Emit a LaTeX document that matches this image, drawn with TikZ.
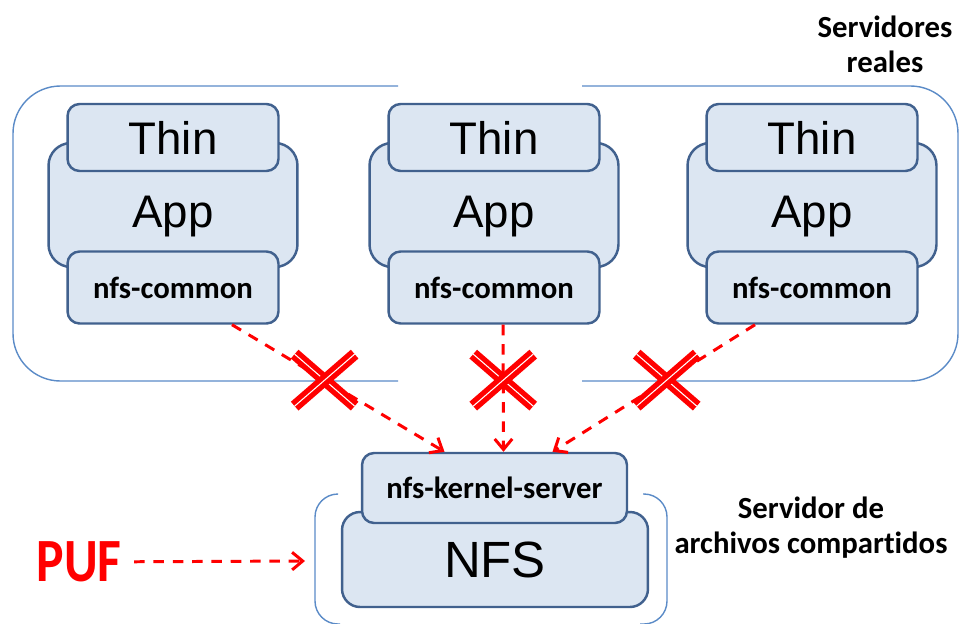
\documentclass[tikz,border=0pt]{standalone}
\usepackage{fontspec}
\setmainfont{Liberation Sans}
\newfontfamily\calibri[Ligatures=NoCommon]{Carlito}
\usetikzlibrary{arrows.meta,calc}

\definecolor{boxfill}{HTML}{DCE6F2}
\definecolor{boxline}{HTML}{41618E}
\definecolor{groupline}{HTML}{5B8BC7}

\begin{document}
\begin{tikzpicture}[x=0.02cm, y=-0.02cm,
    box/.style={rectangle, draw=boxline, line width=1.4pt, fill=boxfill, inner sep=0pt, text centered},
    thinbox/.style={box, minimum width=4.22cm, minimum height=1.34cm, rounded corners=0.24cm, font=\fontsize{26}{30}\selectfont},
    appbox/.style={box, minimum width=4.98cm, minimum height=2.48cm, rounded corners=0.45cm, font=\fontsize{26}{30}\selectfont, text height=31.5pt, text depth=5.5pt},
    libbox/.style={box, minimum width=4.22cm, minimum height=1.44cm, rounded corners=0.24cm, font=\calibri\bfseries\fontsize{17.5}{21}\selectfont},
    hostframe/.style={draw=groupline, line width=0.8pt, rounded corners=0.95cm},
    arrow/.style={-{Straight Barb[length=6pt,width=10pt]}, draw=red, line width=1.7pt, dash pattern=on 6pt off 5pt},
    xbar/.style={draw=red, double=white, double distance=0.6pt, line width=3pt},
    note/.style={font=\calibri\bfseries\fontsize{17.5}{20}\selectfont, align=center},
    nox/.pic={\draw[xbar] (-30,-26) -- (30,26); \draw[xbar] (-30,26) -- (30,-26);}]

    \clip (0,0) rectangle (960,623);

    % Real servers
    \draw[hostframe] (398,86) -- (13,86) -- (13,381) -- (398,381);
    \draw[hostframe] (582,86) -- (958,86) -- (958,381) -- (582,381);
    \node[note] (servers) at (885,44) {Servidores\\reales};

    \foreach \x/\n in {173/1, 494/2, 812/3} {
        \node[appbox] (app\n) at (\x,205) {App};
        \node[thinbox] (thin\n) at (\x,137.5) {Thin};
        \node[libbox] (lib\n) at (\x,287.5) {nfs-common};
    }

    % Shared file server
    \draw[hostframe, rounded corners=0.46cm] (338,494) -- (315,494) -- (315,624) -- (340,624);
    \draw[hostframe, rounded corners=0.46cm] (643,494) -- (667,494) -- (667,624) -- (640,624);
    \node[box, minimum width=6.12cm, minimum height=1.9cm, rounded corners=0.36cm, font=\fontsize{29}{34}\selectfont] (nfs) at (495,559.5) {NFS};
    \node[libbox, minimum width=5.3cm, minimum height=1.4cm] (kernel) at (494.5,488) {nfs-kernel-server};
    \node[note] (fileserver) at (811,528) {Servidor de\\archivos compartidos};

    % PUF
    \node[text=red, inner ysep=2pt, inner xsep=7pt, font=\calibri\bfseries\fontsize{35}{38}\selectfont] (puf) at (79,562) {\scalebox{0.84}[1]{PUF}};
    \coordinate (nfsin) at (305,561);
    \draw[arrow] (puf) -- (nfsin);

    % Arrows
    \draw[arrow] ($(lib1.south)+(59,0)$) -- coordinate[pos=0.436] (cut1) ($(kernel.north)+(-50,0)$);
    \draw[arrow] ($(lib2.south)+(9,0)$) -- coordinate[pos=0.436] (cut2) ($(kernel.north)+(9,0)$);
    \draw[arrow] ($(lib3.south)+(-57,0)$) -- coordinate[pos=0.436] (cut3) ($(kernel.north)+(58,0)$);

    \pic at (cut1) {nox};
    \pic at (cut2) {nox};
    \pic at (cut3) {nox};

\end{tikzpicture}
\end{document}
